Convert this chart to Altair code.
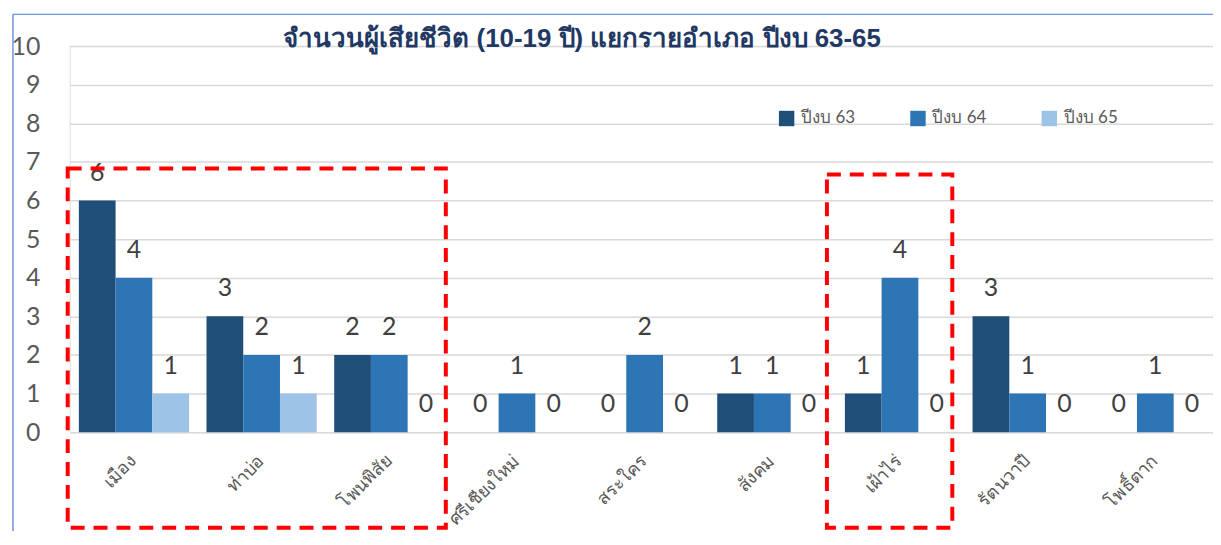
import altair as alt
import pandas as pd

districts = ["เมือง", "ท่าบ่อ", "โพนพิสัย", "ศรีเชียงใหม่", "สระใคร", "สังคม", "เฝ้าไร่", "รัตนวาปี", "โพธิ์ตาก"]
years = ["ปีงบ 63", "ปีงบ 64", "ปีงบ 65"]
fy63 = [6, 3, 2, 0, 0, 1, 1, 3, 0]
fy64 = [4, 2, 2, 1, 2, 1, 4, 1, 1]
fy65 = [1, 1, 0, 0, 0, 0, 0, 0, 0]
y_ticks = [0, 1, 2, 3, 4, 5, 6, 7, 8, 9, 10]
title_text = "จำนวนผู้เสียชีวิต (10-19 ปี) แยกรายอำเภอ ปีงบ 63-65"
colors = ["#1F4E79", "#2E75B6", "#9DC3E6"]

rows = []
for series, name in zip([fy63, fy64, fy65], years):
    for d, v in zip(districts, series):
        rows.append({"district": d, "year": name, "value": v})
df = pd.DataFrame(rows)

FONT = "Lato, sans-serif"

x_enc = alt.X(
    "district:N", sort=districts,
    scale=alt.Scale(paddingInner=0.137, paddingOuter=0.046, align=0.78),
    axis=alt.Axis(labelAngle=-45, labelAlign="right", labelBaseline="middle",
                  labelPadding=26, ticks=False, tickSize=0, domain=False,
                  labelFontSize=18, labelColor="#595959", labelFont=FONT,
                  title=None, labelLimit=300, grid=False),
)
xo_enc = alt.XOffset("year:N", sort=years, scale=alt.Scale(paddingInner=0, paddingOuter=0))
y_enc = alt.Y(
    "value:Q", scale=alt.Scale(domain=[0, 10], nice=False),
    axis=alt.Axis(values=y_ticks, grid=True, gridColor="#D9D9D9", gridWidth=1.5,
                  domain=False, ticks=False, tickSize=0, labelPadding=30,
                  labelFontSize=25, labelColor="#595959", labelFont=FONT, title=None),
)

base = alt.Chart(df)

bars = base.mark_bar().encode(
    x=x_enc, xOffset=xo_enc, y=y_enc,
    color=alt.Color("year:N", sort=years,
                    scale=alt.Scale(domain=years, range=colors),
                    legend=alt.Legend(orient="none", legendX=712, legendY=64,
                                      direction="horizontal", title=None,
                                      symbolType="square", symbolSize=240,
                                      symbolStrokeWidth=0, symbolOpacity=1,
                                      labelFontSize=17, labelColor="#595959",
                                      labelFont=FONT, labelOffset=6,
                                      columnPadding=54, padding=0)),
)

labels = base.mark_text(baseline="middle", dy=-28, fontSize=25, color="#404040", font=FONT).encode(
    x=x_enc, xOffset=xo_enc, y=y_enc, text=alt.Text("value:Q"),
)

title = alt.Chart(pd.DataFrame({"t": [title_text]})).mark_text(
    fontSize=26, fontWeight="bold", color="#1F3864", font="Liberation Sans, Arial, sans-serif",
    align="center", baseline="alphabetic",
).encode(x=alt.value(515), y=alt.value(1), text="t:N")

one = pd.DataFrame({"k": [0]})
box1 = alt.Chart(one).mark_rect(filled=False, stroke="#FF0000", strokeWidth=4, strokeDash=[14, 9]).encode(
    x=alt.value(-2), x2=alt.value(378), y=alt.value(123), y2=alt.value(484))
box2 = alt.Chart(one).mark_rect(filled=False, stroke="#FF0000", strokeWidth=4, strokeDash=[14, 9]).encode(
    x=alt.value(761), x2=alt.value(887), y=alt.value(129), y2=alt.value(484))
frame_top = alt.Chart(one).mark_rule(color="#4A7BD0", strokeWidth=1.2).encode(
    x=alt.value(-57), x2=alt.value(1160), y=alt.value(-32))
frame_left = alt.Chart(one).mark_rule(color="#4A7BD0", strokeWidth=1.2).encode(
    x=alt.value(-57), y=alt.value(-32), y2=alt.value(500))

chart = alt.layer(bars, labels, title, box1, box2, frame_top, frame_left).properties(
    width=1149, height=388,
    autosize=alt.AutoSizeParams(type="none"),
    padding={"left": 62, "top": 37, "right": 0, "bottom": 98},
).configure_view(stroke=None).configure(background="white")

chart.save("out.html", embed_options={"renderer": "svg", "actions": False})
